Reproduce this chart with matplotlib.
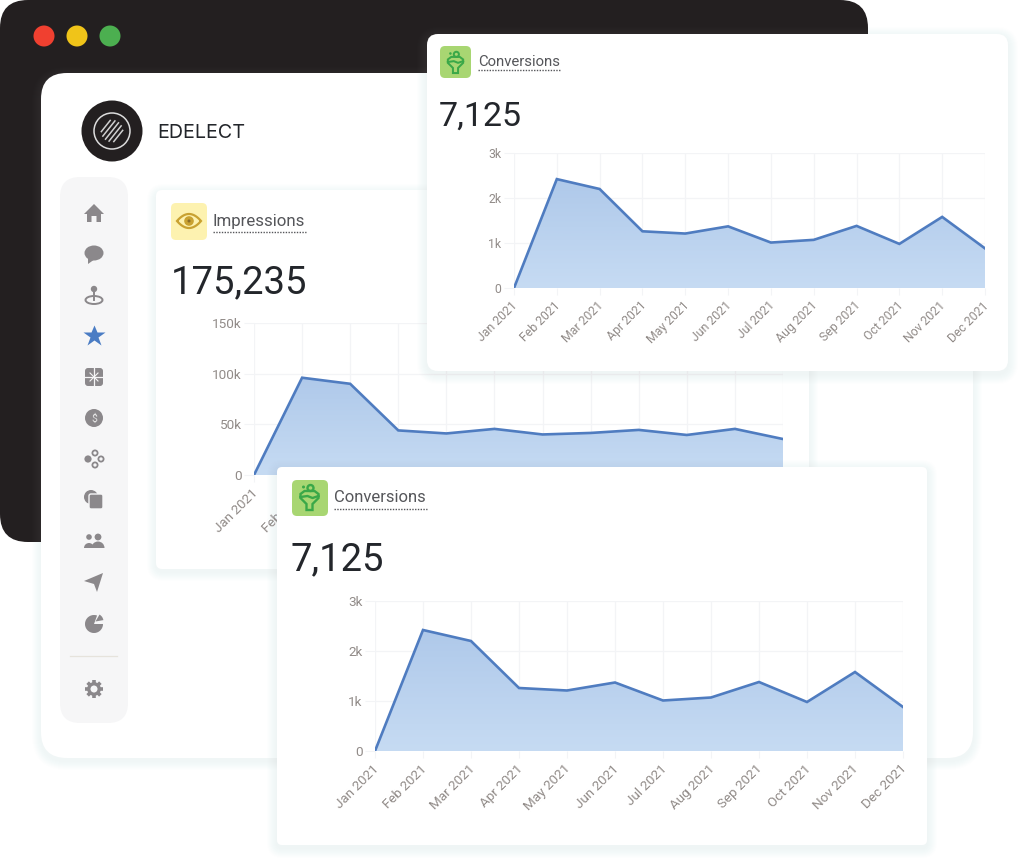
import numpy as np
import matplotlib
matplotlib.use("Agg")
import matplotlib.pyplot as plt
from matplotlib.patches import FancyBboxPatch, Circle, Ellipse, Polygon, Wedge
from matplotlib.colors import LinearSegmentedColormap
from matplotlib.ticker import FixedLocator, FixedFormatter
from matplotlib.transforms import ScaledTranslation

months = ["Jan 2021", "Feb 2021", "Mar 2021", "Apr 2021", "May 2021", "Jun 2021",
          "Jul 2021", "Aug 2021", "Sep 2021", "Oct 2021", "Nov 2021", "Dec 2021"]
conversions = [0, 2420, 2200, 1260, 1210, 1370, 1010, 1070, 1380, 980, 1580, 880]
impressions = [0, 96000, 90000, 44000, 41000, 45500, 40000, 41500, 44500, 39500, 45500, 35500]
conv_ticks = [0, 1000, 2000, 3000]
conv_labels = ["0", "1k", "2k", "3k"]
imp_ticks = [0, 50000, 100000, 150000]
imp_labels = ["0", "50k", "100k", "150k"]

W, H = 1024, 864
plt.rcParams["font.family"] = ["Roboto", "DejaVu Sans"]
fig = plt.figure(figsize=(W / 100, H / 100), dpi=100, facecolor="white")

GREY = "#8b888b"
TICK = "#918b88"
GRID = "#f3f4f6"
LINE = "#4f7cc0"
INK = "#23262b"
grad = LinearSegmentedColormap.from_list("g", ["#c6dbf3", "#afc9ea"])


def overlay(z):
    a = fig.add_axes([0, 0, 1, 1], zorder=z)
    a.set_xlim(0, W)
    a.set_ylim(H, 0)
    a.axis("off")
    a.patch.set_alpha(0)
    return a


def rrect(a, x0, y0, x1, y1, r, color, alpha=1.0, z=1):
    p = FancyBboxPatch((x0, y0), x1 - x0, y1 - y0, boxstyle=f"round,pad=0,rounding_size={r}",
                       fc=color, ec="none", alpha=alpha, zorder=z)
    a.add_patch(p)
    return p


def shadow(a, x0, y0, x1, y1, r, z=1, spread=11, dy=3):
    for i in range(spread, 0, -1):
        rrect(a, x0 - i, y0 - i + dy, x1 + i, y1 + i + dy, r + i, "#9fb1c6", 0.012, z)


def area_chart(rect, values, ticks, labels, z, fs=9.7, pad=3):
    x0, y0, x1, y1 = rect
    ax = fig.add_axes([x0 / W, 1 - y1 / H, (x1 - x0) / W, (y1 - y0) / H], zorder=z)
    ax.patch.set_alpha(0)
    xs = np.arange(len(values))
    ax.set_xlim(0, len(values) - 1)
    ax.set_ylim(ticks[0], ticks[-1])
    poly = ax.fill_between(xs, values, 0, color="none")
    img = ax.imshow(np.linspace(0, 1, 200)[:, None], origin="lower", aspect="auto", cmap=grad,
                    extent=(0, len(values) - 1, 0, max(values)), zorder=1)
    img.set_clip_path(poly.get_paths()[0], ax.transData)
    ax.set_xlim(0, len(values) - 1)
    ax.set_ylim(ticks[0], ticks[-1])
    ax.plot(xs, values, color=LINE, lw=1.9, solid_joinstyle="miter", zorder=2, clip_on=True)
    ax.xaxis.set_major_locator(FixedLocator(xs))
    ax.xaxis.set_major_formatter(FixedFormatter(months))
    ax.yaxis.set_major_locator(FixedLocator(ticks))
    ax.yaxis.set_major_formatter(FixedFormatter(labels))
    ax.grid(True, color=GRID, lw=0.9, zorder=0)
    ax.set_axisbelow(True)
    for s in ax.spines.values():
        s.set_visible(False)
    ax.tick_params(axis="x", length=5, color=GRID, labelcolor=TICK, labelsize=fs, pad=pad)
    ax.tick_params(axis="y", length=7, color=GRID, labelcolor=TICK, labelsize=fs, pad=2)
    shift = ScaledTranslation(-3 / 100, 0, fig.dpi_scale_trans)
    for t in ax.get_xticklabels():
        t.set_rotation(45)
        t.set_ha("right")
        t.set_rotation_mode("anchor")
        t.set_transform(t.get_transform() + shift)
    return ax


def funnel(a, cx, cy, s, z):
    c = "#3aa848"
    lw = 1.7 * s
    top = [(cx - 9 * s, cy - 3 * s), (cx - 5 * s, cy - 6 * s), (cx + 5 * s, cy - 6 * s), (cx + 9 * s, cy - 3 * s),
           (cx + 9 * s, cy + 1 * s), (cx + 3 * s, cy + 7 * s),
           (cx + 3 * s, cy + 13 * s), (cx - 3 * s, cy + 13 * s), (cx - 3 * s, cy + 7 * s), (cx - 9 * s, cy + 1 * s)]
    a.add_patch(Polygon(top, closed=True, fc="none", ec=c, lw=lw, zorder=z))
    a.plot([cx - 9 * s, cx - 2 * s, cx + 3 * s, cx + 9 * s], [cy, cy - 1 * s, cy + 1 * s, cy - 1 * s], color=c, lw=lw, zorder=z)
    a.add_patch(Circle((cx + 1 * s, cy - 9 * s), 3 * s, fc="none", ec=c, lw=lw, zorder=z))
    a.add_patch(Circle((cx - 6 * s, cy - 10 * s), 1.5 * s, fc=c, ec="none", zorder=z))


def eye(a, cx, cy, z):
    c = "#c9a232"
    t = np.linspace(-1, 1, 40)
    up = [(cx + 12 * u, cy - 7 * (1 - u * u)) for u in t]
    dn = [(cx + 12 * u, cy + 7 * (1 - u * u)) for u in t[::-1]]
    a.add_patch(Polygon(up + dn, closed=True, fc="none", ec=c, lw=1.6, zorder=z))
    a.add_patch(Circle((cx, cy), 4.8, fc=c, ec="none", zorder=z))
    a.add_patch(Circle((cx, cy), 1.5, fc="#8a6d2a", ec="none", zorder=z))


# ------ base layer: windows, sidebar, middle card
b = overlay(0)
rrect(b, 0, 0, 868, 542, 28, "#231f20", z=1)
for cx, col in [(44, "#f04030"), (77, "#f0c419"), (110, "#4caf50")]:
    b.add_patch(Circle((cx, 36), 10.5, fc=col, ec="none", zorder=2))
shadow(b, 41, 73, 973, 758, 26, z=2, spread=9)
rrect(b, 41, 73, 973, 758, 26, "white", z=3)

# logo
b.add_patch(Circle((112, 131), 30.5, fc="#231f20", ec="none", zorder=4))
b.add_patch(Circle((112, 131), 18, fc="none", ec="#dcdcdc", lw=1.1, zorder=5))
for off in (-8, -4, 0, 4, 8):
    half = np.sqrt(max(11 ** 2 - off ** 2, 0)) * 0.95
    ux, uy = 0.62, -0.78
    nx, ny = 0.78, 0.62
    mx, my = 112 + nx * off, 131 + ny * off
    b.plot([mx - ux * half, mx + ux * half], [my - uy * half, my + uy * half],
           color="#cfcfcf", lw=1.1, zorder=5)
b.text(157, 133.5, "EDELECT", fontsize=14.2, family=["Inter", "DejaVu Sans"], color=INK, va="center", zorder=5)

# sidebar
rrect(b, 60, 177, 128, 723, 20, "#f6f6f7", z=4)
IC = 6
cx = 94
# home
b.add_patch(Polygon([(cx - 10, 214), (cx, 204), (cx + 10, 214), (cx + 7, 214), (cx + 7, 222), (cx + 2.5, 222),
                     (cx + 2.5, 216), (cx - 2.5, 216), (cx - 2.5, 222), (cx - 7, 222), (cx - 7, 214)],
                    closed=True, fc=GREY, ec="none", zorder=IC))
# chat
b.add_patch(Ellipse((cx, 253), 19, 15, fc=GREY, ec="none", zorder=IC))
b.add_patch(Polygon([(cx - 6, 257), (cx + 1, 259), (cx - 6, 264)], closed=True, fc=GREY, ec="none", zorder=IC))
# pin
b.add_patch(Ellipse((cx, 300), 17, 8, fc="none", ec=GREY, lw=1.4, zorder=IC))
b.plot([cx, cx], [290, 300], color=GREY, lw=1.4, zorder=IC)
b.add_patch(Circle((cx, 289), 3.2, fc=GREY, ec="none", zorder=IC))
# star
b.plot([cx], [336], marker="*", ms=16.5, color="#4a7cc4", mec="none", zorder=IC)
# gift
rrect(b, cx - 9, 368, cx + 9, 386, 3, GREY, z=IC)
b.plot([cx - 9, cx + 9], [377, 377], color="#f6f6f7", lw=0.9, zorder=IC + 1)
b.plot([cx, cx], [368, 386], color="#f6f6f7", lw=0.9, zorder=IC + 1)
b.plot([cx - 4, cx + 4], [373, 381], color="#f6f6f7", lw=0.8, zorder=IC + 1)
b.plot([cx - 4, cx + 4], [381, 373], color="#f6f6f7", lw=0.8, zorder=IC + 1)
# dollar
b.add_patch(Circle((cx, 418), 9, fc=GREY, ec="none", zorder=IC))
b.text(cx, 418.5, "$", fontsize=7.5, color="#e4e4e4", ha="center", va="center", zorder=IC + 1)
# nodes
b.add_patch(Circle((cx - 6, 459), 3.6, fc=GREY, ec="none", zorder=IC))
for dx, dy in [(1, -6), (7, 0), (1, 6)]:
    b.add_patch(Circle((cx + dx, 459 + dy), 2.6, fc="none", ec=GREY, lw=1.3, zorder=IC))
# stacked
b.add_patch(Circle((cx - 3, 497), 7, fc=GREY, ec="none", zorder=IC))
rrect(b, cx - 5, 494, cx + 9, 509, 2, GREY, z=IC + 1).set(ec="#f6f6f7", lw=1)
# people
for dx, r, w, h in [(-5, 2.8, 10, 7), (4, 3.4, 13, 8)]:
    b.add_patch(Circle((cx + dx, 537), r, fc=GREY, ec="none", zorder=IC))
    b.add_patch(Wedge((cx + dx, 548), w / 2, 180, 360, fc=GREY, ec="none", zorder=IC))
# plane
b.add_patch(Polygon([(cx - 10, 581), (cx + 9, 573), (cx + 3, 592), (cx, 584)], closed=True, fc=GREY, ec="none", zorder=IC))
# pie
b.add_patch(Wedge((cx, 624), 9, 0, 290, fc=GREY, ec="none", zorder=IC))
b.add_patch(Wedge((cx + 1.5, 621.5), 8, 300, 350, fc=GREY, ec="none", zorder=IC))
# divider
b.plot([70, 117], [656, 656], color="#e6e3dc", lw=0.9, zorder=IC)
# gear
for ang in np.arange(0, 360, 45):
    c, s = np.cos(np.radians(ang)), np.sin(np.radians(ang))
    b.plot([cx + 5 * c, cx + 9 * c], [689 + 5 * s, 689 + 9 * s], color=GREY, lw=2.6, solid_capstyle="butt", zorder=IC)
b.add_patch(Circle((cx, 689), 5.2, fc="#f6f6f7", ec=GREY, lw=2.4, zorder=IC))

# middle card
shadow(b, 156, 190, 809, 569, 8, z=7, spread=9)
rrect(b, 156, 190, 809, 569, 6, "white", z=8)
rrect(b, 171, 203, 207, 240, 5, "#fdf2b0", z=9)
eye(b, 189, 221, 10)
b.text(213, 221.5, "Impressions", fontsize=12.2, color="#55565a", va="center", zorder=9)
b.plot([213, 306], [232, 232], color="#55565a", lw=1.0, ls=(0, (1, 1)), zorder=9)
b.text(171, 283, "175,235", fontsize=27.5, color=INK, va="center", zorder=9)

area_chart((254, 323, 783, 475), impressions, imp_ticks, imp_labels, 1)

# ------ upper layer: the two conversions cards
u = overlay(2)
# top card
shadow(u, 427, 34, 1008, 371, 12, z=1, spread=10)
rrect(u, 427, 34, 1008, 371, 11, "white", z=2)
rrect(u, 440, 46, 471, 78, 5, "#a8d672", z=3)
funnel(u, 455.5, 62, 0.85, 4)
u.text(478, 62, "Conversions", fontsize=10.7, color="#55565a", va="center", zorder=3)
u.plot([478, 561], [70, 70], color="#55565a", lw=1.0, ls=(0, (1, 1)), zorder=3)
u.text(439, 117, "7,125", fontsize=24.5, color=INK, va="center", zorder=3)
# bottom card
shadow(u, 277, 467, 927, 845, 6, z=1, spread=10)
rrect(u, 277, 467, 927, 845, 5, "white", z=2)
rrect(u, 292, 480, 328, 516, 5, "#a8d672", z=3)
funnel(u, 309.5, 497, 1.0, 4)
u.text(334, 498, "Conversions", fontsize=12.0, color="#55565a", va="center", zorder=3)
u.plot([334, 427], [509, 509], color="#55565a", lw=1.0, ls=(0, (1, 1)), zorder=3)
u.text(290, 560, "7,125", fontsize=27.5, color=INK, va="center", zorder=3)

area_chart((514, 153, 985, 288), conversions, conv_ticks, conv_labels, 3, fs=8.8)
area_chart((375, 601, 903, 751), conversions, conv_ticks, conv_labels, 3, fs=9.7)

fig.savefig("out.png", dpi=100, facecolor="white")
